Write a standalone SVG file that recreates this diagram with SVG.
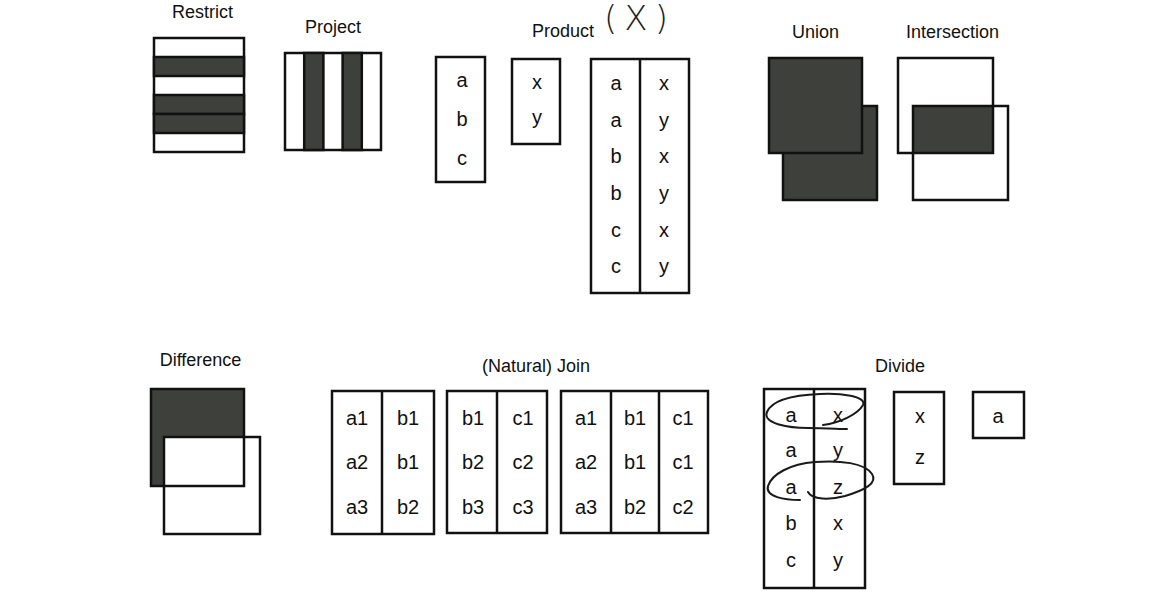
<svg xmlns="http://www.w3.org/2000/svg" width="1170" height="593" viewBox="0 0 1170 593">
<style>
.lbl{font-family:"Liberation Sans",Arial,sans-serif;font-size:18px;fill:#111;text-anchor:middle}
.t{font-family:"Liberation Sans",Arial,sans-serif;font-size:20px;fill:#111;text-anchor:middle}
.box{fill:#fff;stroke:#111;stroke-width:2.5}
.dk{fill:#3e403b;stroke:#111;stroke-width:2.5}
.ln{stroke:#111;stroke-width:2.5;fill:none}
.hand{fill:none;stroke:#1a1a1a;stroke-width:2;stroke-linecap:round;stroke-linejoin:round}
.hw{font-family:"DejaVu Sans","Liberation Sans",sans-serif;font-size:34px;fill:#222;font-weight:200}
</style>
<rect width="1170" height="593" fill="#fff"/>

<g id="restrict">
<text class="lbl" x="202.5" y="18">Restrict</text>
<rect class="box" x="154" y="38" width="90" height="114"/>
<rect class="dk" x="154" y="57" width="90" height="19"/>
<rect class="dk" x="154" y="95" width="90" height="19"/>
<rect class="dk" x="154" y="114" width="90" height="19"/>
</g>

<g id="project">
<text class="lbl" x="333" y="33">Project</text>
<rect class="box" x="285" y="53" width="96" height="97"/>
<rect class="dk" x="304.2" y="53" width="19.2" height="97"/>
<rect class="dk" x="342.6" y="53" width="19.2" height="97"/>
</g>

<g id="product">
<text class="lbl" x="563" y="37">Product</text>
<text class="hw" x="604" y="30" textLength="64" lengthAdjust="spacing">(X)</text>
<g id="product-r1">
<rect class="box" x="436" y="57" width="49" height="125"/>
<text class="t" x="462" y="87">a</text>
<text class="t" x="462" y="126">b</text>
<text class="t" x="462" y="165">c</text>
</g>
<g id="product-r2">
<rect class="box" x="512" y="59" width="48" height="85"/>
<text class="t" x="537" y="89">x</text>
<text class="t" x="537" y="124">y</text>
</g>
<g id="product-result">
<rect class="box" x="591" y="59" width="98" height="234"/>
<line class="ln" x1="640" y1="59" x2="640" y2="293"/>
<text class="t" x="616" y="90">a</text><text class="t" x="664" y="90">x</text>
<text class="t" x="616" y="127">a</text><text class="t" x="664" y="127">y</text>
<text class="t" x="616" y="163">b</text><text class="t" x="664" y="163">x</text>
<text class="t" x="616" y="200">b</text><text class="t" x="664" y="200">y</text>
<text class="t" x="616" y="237">c</text><text class="t" x="664" y="237">x</text>
<text class="t" x="616" y="273">c</text><text class="t" x="664" y="273">y</text>
</g>
</g>

<g id="union">
<text class="lbl" x="815.5" y="38">Union</text>
<rect class="dk" x="783" y="106" width="94" height="94"/>
<rect class="dk" x="769" y="58" width="93" height="95"/>
</g>

<g id="intersection">
<text class="lbl" x="952.5" y="38">Intersection</text>
<rect x="913" y="106" width="80" height="47" fill="#3e403b"/>
<rect class="ln" x="898" y="58" width="95" height="95"/>
<rect class="ln" x="913" y="106" width="95" height="94"/>
</g>

<g id="difference">
<text class="lbl" x="200.5" y="366">Difference</text>
<rect x="151" y="389" width="93" height="97" fill="#3e403b"/>
<rect x="164" y="437" width="96" height="97" fill="#fff"/>
<rect class="ln" x="151" y="389" width="93" height="97"/>
<rect class="ln" x="164" y="437" width="96" height="97"/>
</g>

<g id="join">
<text class="lbl" x="536" y="372">(Natural) Join</text>
<g id="join-r1">
<rect class="box" x="332" y="391" width="102" height="143"/>
<line class="ln" x1="382" y1="391" x2="382" y2="534"/>
<text class="t" x="357" y="425">a1</text><text class="t" x="408" y="425">b1</text>
<text class="t" x="357" y="469">a2</text><text class="t" x="408" y="469">b1</text>
<text class="t" x="357" y="514">a3</text><text class="t" x="408" y="514">b2</text>
</g>
<g id="join-r2">
<rect class="box" x="447" y="391" width="100" height="142"/>
<line class="ln" x1="497" y1="391" x2="497" y2="533"/>
<text class="t" x="473" y="425">b1</text><text class="t" x="523" y="425">c1</text>
<text class="t" x="473" y="469">b2</text><text class="t" x="523" y="469">c2</text>
<text class="t" x="473" y="514">b3</text><text class="t" x="523" y="514">c3</text>
</g>
<g id="join-result">
<rect class="box" x="561" y="391" width="147" height="142"/>
<line class="ln" x1="611" y1="391" x2="611" y2="533"/>
<line class="ln" x1="659" y1="391" x2="659" y2="533"/>
<text class="t" x="586" y="425">a1</text><text class="t" x="635" y="425">b1</text><text class="t" x="683" y="425">c1</text>
<text class="t" x="586" y="469">a2</text><text class="t" x="635" y="469">b1</text><text class="t" x="683" y="469">c1</text>
<text class="t" x="586" y="514">a3</text><text class="t" x="635" y="514">b2</text><text class="t" x="683" y="514">c2</text>
</g>
</g>

<g id="divide">
<text class="lbl" x="900" y="372">Divide</text>
<g id="divide-r1">
<rect class="box" x="764" y="389" width="101" height="199"/>
<line class="ln" x1="814" y1="389" x2="814" y2="588"/>
<text class="t" x="791" y="422">a</text><text class="t" x="838" y="422">x</text>
<text class="t" x="791" y="457">a</text><text class="t" x="838" y="457">y</text>
<text class="t" x="791" y="494">a</text><text class="t" x="838" y="494">z</text>
<text class="t" x="791" y="530">b</text><text class="t" x="838" y="530">x</text>
<text class="t" x="791" y="567">c</text><text class="t" x="838" y="567">y</text>
</g>
<g id="divide-r2">
<rect class="box" x="894" y="392" width="50" height="92"/>
<text class="t" x="920" y="423">x</text>
<text class="t" x="920" y="464">z</text>
</g>
<g id="divide-result">
<rect class="box" x="973" y="392" width="51" height="46"/>
<text class="t" x="998" y="423">a</text>
</g>
<g id="annotations">
<path class="hand" d="M823,425 C840,423 858,414 863,405 C867,396 840,393 820,394 C795,395 772,400 767,412 C762,424 790,428 808,428 C825,428 840,429 847,429"/>
<path class="hand" d="M808,492 C812,500 830,500 845,496 C865,490 878,483 872,474 C865,463 840,460 815,462 C790,464 772,474 768,486 C765,497 785,500 800,500"/>
</g>
</g>
</svg>
